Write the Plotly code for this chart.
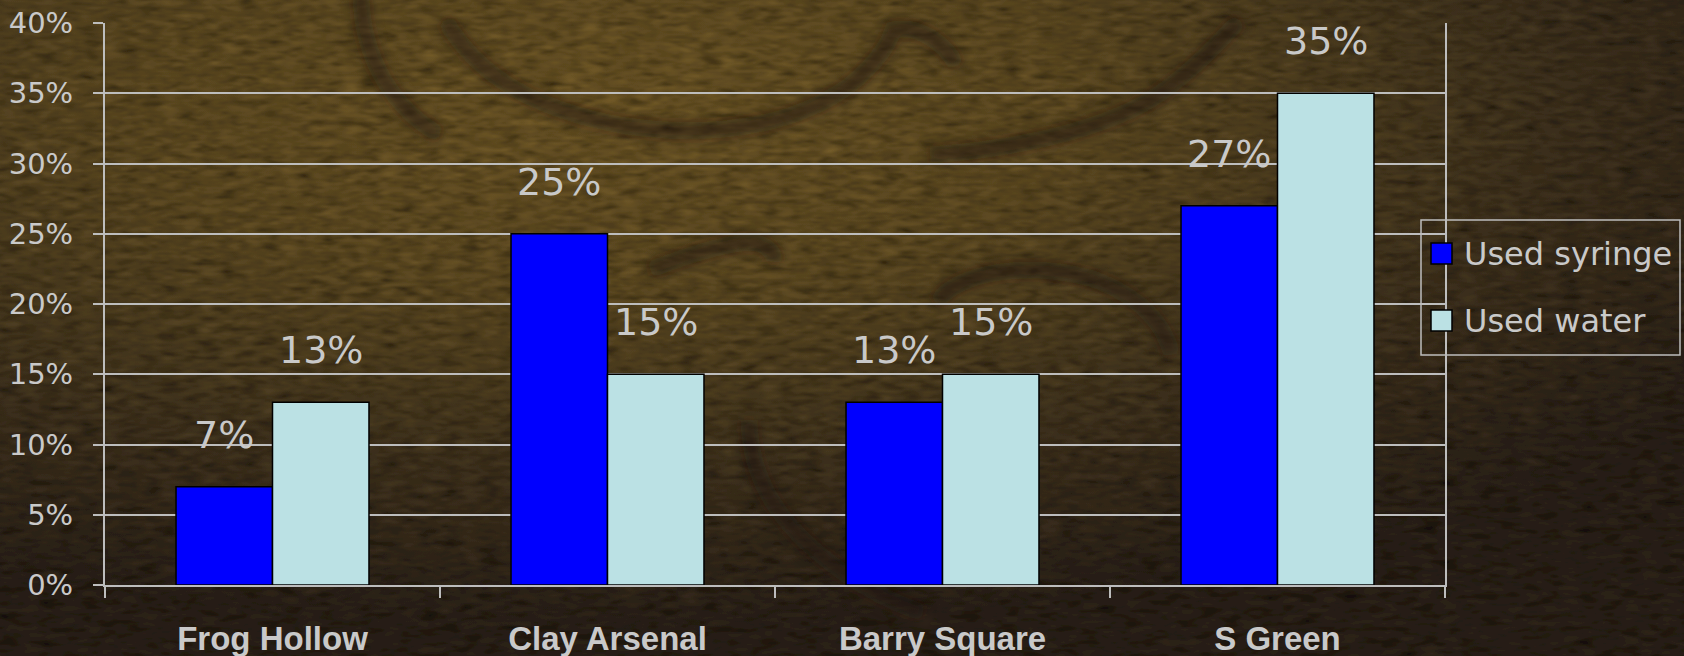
import base64
import plotly.graph_objects as go

# --- Data ---
neighborhoods = ["Frog Hollow", "Clay Arsenal", "Barry Square", "S Green"]
used_syringe = [0.07, 0.25, 0.13, 0.27]
used_water = [0.13, 0.15, 0.15, 0.35]
series_names = ["Used syringe", "Used water"]
series_colors = ["#0000ff", "#bbe1e4"]

W_FIG, H_FIG = 1684, 656
M_L, M_R, M_T, M_B = 105, 239, 23, 71
BARGAP = 0.424
TXT = "#c9c9c9"
GRID = "#bdbdbd"


# --- Background (textured brown with embossed swirls) ---
def background_uri():
    swirl = ("M361,-5 C362,60 395,110 440,135 "
             "M445,20 C480,80 540,110 620,125 C700,138 790,130 850,85 "
             "C880,60 890,40 893,30 C910,25 940,35 957,66 "
             "M930,155 C1000,150 1090,135 1150,100 C1190,75 1220,40 1240,20 "
             "M650,270 C700,250 740,240 757,243 C770,247 775,255 774,262 "
             "M936,303 C960,270 1030,262 1090,278 C1140,295 1165,325 1172,355 "
             "M749,420 C750,470 770,520 840,570 C870,592 900,605 923,613")
    svg = f"""<svg xmlns='http://www.w3.org/2000/svg' width='{W_FIG}' height='{H_FIG}' viewBox='0 0 {W_FIG} {H_FIG}'>
<defs>
<radialGradient id='g' cx='0.36' cy='0.16' r='0.8'>
<stop offset='0' stop-color='#614c20'/>
<stop offset='0.35' stop-color='#54421d'/>
<stop offset='0.7' stop-color='#382c19'/>
<stop offset='1' stop-color='#251c13'/>
</radialGradient>
<filter id='tx' x='0' y='0' width='100%' height='100%'>
<feTurbulence type='fractalNoise' baseFrequency='0.05 0.15' numOctaves='2' seed='7' result='t'/>
<feColorMatrix in='t' type='matrix' values='0.33 0.33 0.33 0 0 0.33 0.33 0.33 0 0 0.33 0.33 0.33 0 0 0 0 0 0 1' result='gr'/>
<feComponentTransfer in='gr' result='c'>
<feFuncR type='linear' slope='1.15' intercept='-0.07'/>
<feFuncG type='linear' slope='1.15' intercept='-0.07'/>
<feFuncB type='linear' slope='1.15' intercept='-0.07'/>
</feComponentTransfer>
<feBlend in='c' in2='SourceGraphic' mode='overlay'/>
</filter>
<filter id='bl'><feGaussianBlur stdDeviation='6'/></filter>
</defs>
<rect width='{W_FIG}' height='{H_FIG}' fill='url(#g)' filter='url(#tx)'/>
<path d='{swirl}' fill='none' stroke='#8a7040' stroke-width='10' opacity='0.18' transform='translate(7,9)' filter='url(#bl)'/>
<path d='{swirl}' fill='none' stroke='#140f08' stroke-width='17' opacity='0.5' filter='url(#bl)'/>
</svg>"""
    return "data:image/svg+xml;base64," + base64.b64encode(svg.encode()).decode()


PW = W_FIG - M_L - M_R
PH = H_FIG - M_T - M_B


def px(x):
    return (x - M_L) / PW


def py(y):
    return 1 - (y - M_T) / PH


fig = go.Figure()
for name, vals, col in zip(series_names, [used_syringe, used_water], series_colors):
    fig.add_trace(go.Bar(x=neighborhoods, y=vals, name=name, marker_color=col,
                         marker_line=dict(color="black", width=1.5), showlegend=False))

# data labels above bars
half = (1 - BARGAP) / 4
annotations = []
for k, vals in enumerate([used_syringe, used_water]):
    off = -half if k == 0 else half
    for i, v in enumerate(vals):
        annotations.append(dict(x=i + off, y=v, xref="x", yref="y", text=f"{round(v * 100)}%",
                                showarrow=False, yshift=52, yanchor="middle",
                                font=dict(family="DejaVu Sans", size=38, color=TXT)))

# custom legend
shapes = [dict(type="rect", xref="paper", yref="paper", x0=px(1421), x1=px(1680), y0=py(355), y1=py(220),
               line=dict(color=GRID, width=1.5), fillcolor="rgba(0,0,0,0)")]
for k, (name, col) in enumerate(zip(series_names, series_colors)):
    yc = 254 + k * 67
    shapes.append(dict(type="rect", xref="paper", yref="paper", x0=px(1431), x1=px(1452),
                       y0=py(yc + 10), y1=py(yc - 11), fillcolor=col, line=dict(color="black", width=1.5)))
    annotations.append(dict(x=px(1462), y=py(yc), xref="paper", yref="paper", text=name, showarrow=False,
                            xanchor="left", yanchor="middle",
                            font=dict(family="DejaVu Sans", size=32, color=TXT)))

fig.update_layout(
    width=W_FIG, height=H_FIG,
    margin=dict(l=M_L, r=M_R, t=M_T, b=M_B, autoexpand=False),
    barmode="group", bargap=BARGAP, bargroupgap=0,
    paper_bgcolor="#3a2d19", plot_bgcolor="rgba(0,0,0,0)",
    showlegend=False,
    annotations=annotations, shapes=shapes,
    images=[dict(source=background_uri(), xref="paper", yref="paper", x=px(0), y=py(0),
                 sizex=W_FIG / PW, sizey=H_FIG / PH, sizing="stretch", layer="below",
                 xanchor="left", yanchor="top")],
    xaxis=dict(showgrid=False, showline=True, linecolor=GRID, linewidth=2, automargin=False,
               ticks="outside", tickson="boundaries", ticklen=11, tickwidth=2, tickcolor=GRID,
               ticklabelstandoff=23,
               tickfont=dict(family="Liberation Sans", size=33, color=TXT, weight="bold")),
    yaxis=dict(range=[0, 0.40], dtick=0.05, tickformat=".0%", showgrid=True, gridcolor=GRID, gridwidth=2,
               showline=True, linecolor=GRID, linewidth=2, mirror=True, zeroline=False, automargin=False,
               ticks="outside", ticklen=10, tickwidth=2, tickcolor=GRID, ticklabelstandoff=14,
               tickfont=dict(family="DejaVu Sans", size=29, color=TXT)),
)

fig.write_html("out.html", config={"displayModeBar": False},
               post_script="document.body.style.margin='0px';")
